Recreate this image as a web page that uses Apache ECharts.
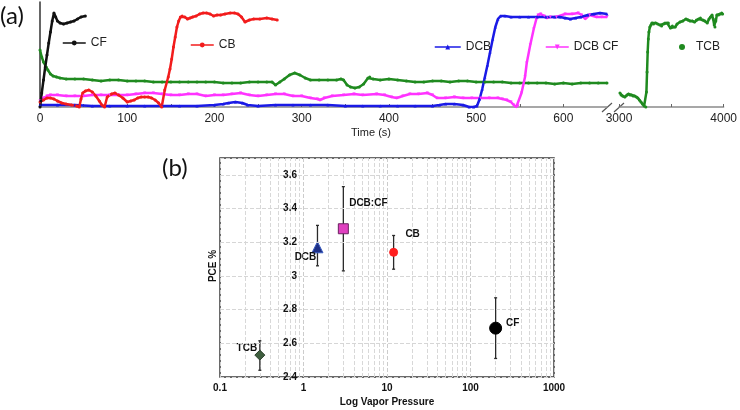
<!DOCTYPE html>
<html><head><meta charset="utf-8">
<script src="https://cdn.jsdelivr.net/npm/echarts@6/dist/echarts.min.js"></script>
<style>html,body{margin:0;padding:0;background:#fff}#c{width:740px;height:410px}</style>
</head><body><div id="c"></div>
<script>
// ---------- Panel (a): time traces (time s, normalised signal) ----------
const cfTrace = [[0,0],[1,6],[2,14],[4,27],[6,40],[8,52],[10,64],[12,75],[14,86],[16,94],[18,90],[20,86],[23,84],[27,83],[31,84],[35,85],[39,86],[43,88],[47,90],[52,91]];
const cbTrace = [[0,5],[4,7],[8,9],[12,9],[16,8],[20,6],[25,4],[30,3],[36,2],[42,1],[45,0],[47,8],[49,14],[52,16],[56,17],[60,15],[64,11],[68,6],[71,2],[74,0],[77,10],[82,13],[86,14],[90,12],[95,9],[100,5],[104,6],[108,7],[112,9],[116,10],[120,10],[124,10],[128,9],[132,7],[136,4],[139.5,0],[143,17],[147,30],[149,38],[151,48],[153,60],[155,70],[157,80],[159,86],[161,90],[163,91],[166,90],[169,88],[172,89],[175,90],[179,91],[183,93],[187,94],[191,94],[195,93],[199,91],[203,92],[207,92],[212,93],[218,94],[223,94],[227,93],[231,90],[235,85],[240,87],[245,88],[252,88],[260,89],[266,88],[272,87]];
const dcbTrace = [[0,2],[20,2],[40,2],[60,1],[80,1],[100,1],[120,1],[140,1],[160,1],[180,1],[200,2],[210,3],[216,4],[224,5],[232,4],[238,2],[250,1],[270,2],[290,2],[310,2],[330,2],[350,1],[370,1],[390,1],[410,1],[430,1],[450,1],[458,2],[465,3],[475,3],[485,2],[492,0],[497,0],[501,1],[504,8],[507,18],[510,30],[513,42],[516,55],[519,68],[522,80],[525,88],[528,91],[533,91],[540,90],[550,90],[560,90],[570,90],[580,90],[590,90],[596,90],[602,89],[608,88],[614,89],[620,90],[628,92],[635,93],[642,94],[650,93]];
const dcbcfTrace = [[0,6],[4,9],[8,11],[12,12],[20,12],[30,11],[40,11],[50,11],[60,12],[70,12],[80,12],[90,12],[100,12],[110,13],[120,14],[130,14],[140,13],[150,12],[160,12],[170,13],[180,13],[190,11],[200,12],[210,12],[220,13],[230,14],[240,12],[250,11],[260,12],[270,13],[280,13],[290,11],[300,11],[310,9],[318,8],[321,7],[326,9],[335,11],[348,12],[360,13],[370,12],[386,13],[395,12],[403,10],[409,9],[416,11],[424,13],[434,13],[444,14],[450,12],[455,9],[465,9],[475,10],[485,9],[495,9],[505,9],[515,9],[525,9],[530,8],[535,7],[540,5],[543,2],[546,0],[548,1],[552,14],[556,30],[558,44],[562,62],[566,78],[569,88],[571,92],[574,93],[578,91],[581,89],[585,90],[592,90],[602,93],[610,93],[617,94],[621,92],[625,88],[630,92],[638,90],[644,90],[650,90]];
const tcbTraceLow = [[0,57],[2,50],[4,45],[7,40],[9,37],[12,33],[15,31],[19,30],[23,29],[30,28],[40,28],[50,28],[60,27],[70,26],[80,27],[90,27],[100,26],[110,26],[120,26],[130,25],[140,25],[150,25],[160,25],[170,25],[180,25],[190,25],[200,25],[210,24],[220,24],[230,24],[240,25],[250,25],[260,25],[266,25],[270,22],[275,25],[280,28],[286,32],[292,34],[298,32],[304,29],[310,27],[320,27],[330,27],[340,27],[345,28],[348,27],[352,22],[356,20],[361,19],[366,20],[371,23],[376,29],[378,30],[382,28],[390,27],[400,28],[410,27],[420,26],[430,25],[440,25],[450,26],[460,26],[470,25],[480,26],[490,26],[500,25],[510,25],[520,25],[530,25],[540,24],[550,24],[560,24],[570,24],[580,24],[590,23],[600,24],[610,23],[620,24],[630,24],[640,24],[650,24]];
const tcbTraceHigh = [[3009,14],[3020,12],[3035,11],[3056,10],[3075,12],[3090,13],[3105,12],[3120,12],[3135,11],[3150,11],[3167,10],[3180,9],[3194,7],[3210,5],[3225,3],[3240,1],[3256,0],[3262,15],[3268,35],[3274,55],[3280,68],[3286,75],[3295,80],[3305,82],[3315,84],[3330,83],[3352,84],[3370,83],[3390,82],[3407,81],[3425,83],[3440,84],[3460,84],[3472,84],[3491,79],[3510,81],[3537,80],[3555,83],[3583,85],[3610,86],[3639,88],[3660,87],[3680,86],[3700,86],[3722,85],[3740,87],[3760,88],[3778,89],[3800,87],[3820,86],[3843,84],[3860,88],[3875,90],[3889,92],[3900,88],[3910,82],[3917,80],[3925,86],[3935,92],[3950,92],[3965,93],[3981,94],[3990,93]];
const timeTicksLow = [0,100,200,300,400,500,600];
const timeTicksHigh = [3000,4000];

// ---------- Panel (b): PCE vs vapour pressure ----------
const solvents = ['TCB','DCB','DCB:CF','CB','CF'];
const vaporPressure = [0.3,1.47,3,12,200];
const pce = [2.53,3.17,3.28,3.14,2.69];
const pceErrTop = [2.615,3.30,3.53,3.24,2.87];
const pceErrBottom = [2.44,3.06,3.03,3.04,2.51];
const minorGridValues = [0.2,0.3,0.4,0.5,0.6,0.7,0.8,0.9,2,3,4,5,6,7,8,9,20,30,40,50,60,70,80,90,200,300,400,500,600,700,800,900];

// styles (separate from data)
const pointStyle = {
  'TCB':    {symbol:'diamond', size:10, color:'#3f5f3f', border:'#2a3f2a', off:[-13,-7]},
  'DCB':    {symbol:'triangle', size:11, color:'#1d2f86', border:'#3a5cc0', off:[-12,10]},
  'DCB:CF': {symbol:'rect', size:10, color:'#e040c0', border:'#6a2060', off:[25,-26]},
  'CB':     {symbol:'circle', size:8, color:'#ff1f1f', border:'#ff1f1f', off:[19,-18]},
  'CF':     {symbol:'circle', size:12, color:'#000', border:'#000', off:[17,-5]}
};

const chart = echarts.init(document.getElementById('c'), null, {renderer:'canvas'});
const FONT = 'Liberation Sans, Arial, sans-serif';

function trace(name, data, color, symbol, xi, extra) {
  return Object.assign({
    name, type:'line', xAxisIndex:xi, yAxisIndex:xi, data,
    symbol, symbolSize:3, showSymbol:true, color,
    lineStyle:{color, width:2.5}, itemStyle:{color},
    animation:false, silent:true, z:3
  }, extra || {});
}

const lowTickFmt = v => (v % 100 === 0 && v <= 600) ? String(v) : '';
const highTickFmt = v => (v % 1000 === 0) ? String(v) : '';
const logFmt = v => v < 1 ? String(v) : String(Math.round(v));
const legendText = {fontSize:12, color:'#222', fontFamily:FONT};

const option = {
  backgroundColor:'#fff',
  animation:false,
  textStyle:{fontFamily:FONT},
  grid:[
    {left:40, top:2, width:567, height:105},
    {left:619, top:2, width:108, height:105},
    {left:220, top:158, width:334, height:219, show:true, borderColor:'#3a3a3a', borderWidth:1.5, backgroundColor:'transparent'}
  ],
  xAxis:[
    {gridIndex:0, type:'value', min:0, max:650, interval:50,
      axisLine:{show:true, lineStyle:{color:'#8a8a8a', width:1.5}},
      axisTick:{show:true, inside:true, length:3, lineStyle:{color:'#666'}},
      axisLabel:{formatter:lowTickFmt, fontSize:12, color:'#222', margin:6, showMaxLabel:false, fontFamily:FONT},
      splitLine:{show:false}},
    {gridIndex:1, type:'value', min:3000, max:4000, interval:500,
      axisLine:{show:true, lineStyle:{color:'#8a8a8a', width:1.5}},
      axisTick:{show:true, inside:true, length:3, lineStyle:{color:'#666'}},
      axisLabel:{formatter:highTickFmt, fontSize:12, color:'#222', margin:6, fontFamily:FONT},
      splitLine:{show:false}},
    {gridIndex:2, type:'log', logBase:10, min:0.1, max:1000, z:10,
      axisLine:{show:false}, axisTick:{show:false},
      axisLabel:{formatter:logFmt, fontSize:10, fontWeight:'bold', color:'#111', margin:6, fontFamily:FONT},
      splitLine:{show:true, lineStyle:{color:'#cccccc', type:'dashed', width:1}}}
  ],
  yAxis:[
    {gridIndex:0, type:'value', min:0, max:105, axisLine:{show:true, lineStyle:{color:'#333', width:1.5}}, axisTick:{show:false}, axisLabel:{show:false}, splitLine:{show:false}},
    {gridIndex:1, type:'value', min:0, max:105, axisLine:{show:false}, axisTick:{show:false}, axisLabel:{show:false}, splitLine:{show:false}},
    {gridIndex:2, type:'value', min:2.4, max:3.7, interval:0.2, z:10,
      axisLine:{show:false}, axisTick:{show:false},
      axisLabel:{fontSize:10, fontWeight:'bold', color:'#111', margin:-77, showMaxLabel:false, fontFamily:FONT},
      splitLine:{show:true, lineStyle:{color:'#d6d6d6', type:'dashed', width:1}}}
  ],
  legend:[
    {data:['CF'], left:57, top:32, itemWidth:23, itemHeight:6, selectedMode:false, lineStyle:{width:1.5}, textStyle:legendText},
    {data:['CB'], left:185, top:34, itemWidth:23, itemHeight:6, selectedMode:false, lineStyle:{width:1.5}, textStyle:legendText},
    {data:['DCB'], left:429, top:36, itemWidth:26, itemHeight:6, selectedMode:false, lineStyle:{width:1.5}, textStyle:legendText},
    {data:['DCB CF'], left:540, top:36, itemWidth:23, itemHeight:6, selectedMode:false, lineStyle:{width:1.5}, textStyle:legendText},
    {data:[{name:'TCB', icon:'circle'}], left:674, top:36, itemWidth:6, itemHeight:6, itemGap:0, selectedMode:false, textStyle:Object.assign({padding:[0,0,0,6]}, legendText)}
  ],
  graphic:[
    {type:'text', left:0, top:4, style:{text:'(a)', font:'24px Lato, "Open Sans", sans-serif', fill:'#111'}},
    {type:'text', left:162, top:156, style:{text:'(b)', font:'24px Lato, "Open Sans", sans-serif', fill:'#111'}},
    {type:'text', x:371, y:133, style:{text:'Time (s)', font:'11px "Liberation Sans", Arial, sans-serif', fill:'#222', align:'center', verticalAlign:'middle'}},
    {type:'text', x:387, y:402, style:{text:'Log Vapor Pressure', font:'bold 10px "Liberation Sans", Arial, sans-serif', fill:'#111', align:'center', verticalAlign:'middle'}},
    {type:'text', x:213, y:266, rotation:Math.PI/2, style:{text:'PCE %', font:'bold 10px "Liberation Sans", Arial, sans-serif', fill:'#111', align:'center', verticalAlign:'middle'}},
    {type:'line', shape:{x1:602, y1:112, x2:612, y2:103}, style:{stroke:'#555', lineWidth:1.2}},
    {type:'line', shape:{x1:614, y1:112, x2:624, y2:103}, style:{stroke:'#555', lineWidth:1.2}}
  ],
  series:[
    trace('TCB', tcbTraceLow, '#1f8a1f', 'circle', 0),
    trace('DCB CF', dcbcfTrace, '#ff33ff', 'triangle', 0, {symbolRotate:180}),
    trace('DCB', dcbTrace, '#1a1ae6', 'triangle', 0),
    trace('CB', cbTrace, '#f21c1c', 'circle', 0),
    trace('CF', cfTrace, '#111111', 'circle', 0),
    trace('TCB', tcbTraceHigh, '#1f8a1f', 'circle', 1),
    {
      type:'scatter', xAxisIndex:2, yAxisIndex:2, silent:true, z:1, data:[],
      markLine:{silent:true, symbol:'none', label:{show:false}, animation:false, z:1,
        lineStyle:{color:'#d8d8d8', type:'dashed', width:1},
        data: minorGridValues.map(v => ({xAxis:v}))}
    },
    {
      type:'custom', xAxisIndex:2, yAxisIndex:2, silent:true, z:5,
      data: vaporPressure.map((v,i) => [v, pceErrBottom[i], pceErrTop[i]]),
      encode:{x:0, y:[1,2]},
      renderItem:(params, api) => {
        const top = api.coord([api.value(0), api.value(2)]);
        const bot = api.coord([api.value(0), api.value(1)]);
        const st = {stroke:'#2a2a2a', lineWidth:1.3};
        return {type:'group', children:[
          {type:'line', shape:{x1:top[0], y1:top[1], x2:bot[0], y2:bot[1]}, style:st},
          {type:'line', shape:{x1:top[0]-1.5, y1:top[1], x2:top[0]+1.5, y2:top[1]}, style:st},
          {type:'line', shape:{x1:bot[0]-1.5, y1:bot[1], x2:bot[0]+1.5, y2:bot[1]}, style:st}
        ]};
      }
    },
    {
      type:'scatter', xAxisIndex:2, yAxisIndex:2, silent:true, z:6,
      data: solvents.map((n,i) => {
        const s = pointStyle[n];
        return {name:n, value:[vaporPressure[i], pce[i]], symbol:s.symbol, symbolSize:s.size,
          itemStyle:{color:s.color, borderColor:s.border, borderWidth:1, opacity:1},
          label:{show:true, position:'inside', offset:s.off, formatter:n, fontSize:10, fontWeight:'bold', color:'#111', fontFamily:FONT}};
      })
    }
  ]
};
chart.setOption(option);
</script></body></html>
